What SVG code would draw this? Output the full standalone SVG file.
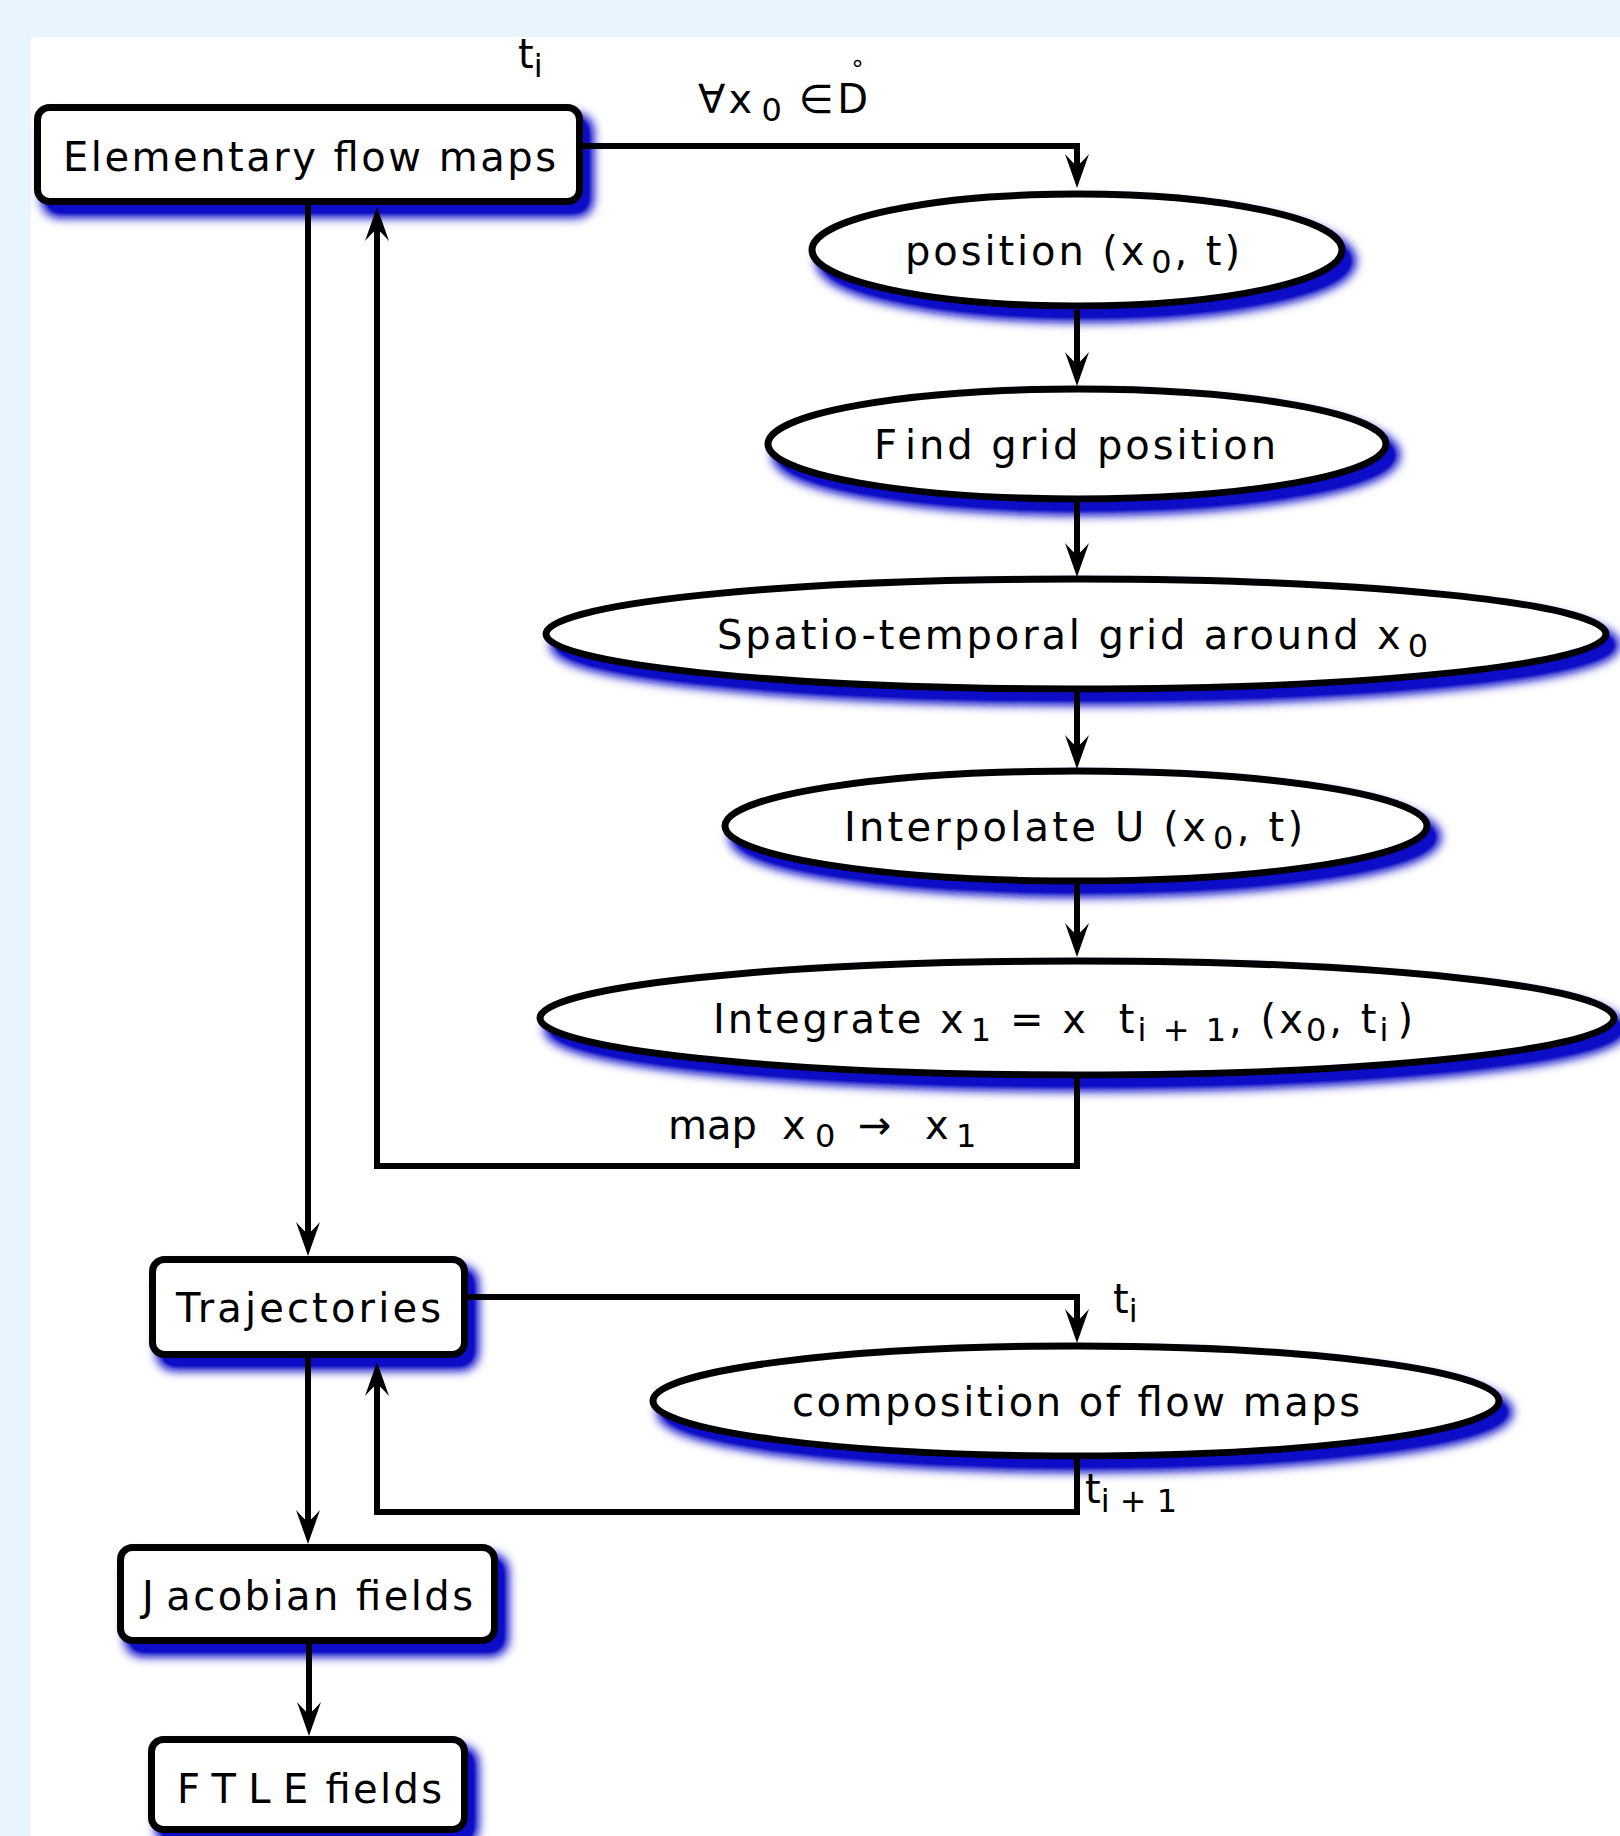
<svg xmlns="http://www.w3.org/2000/svg" width="1620" height="1836" viewBox="0 0 1620 1836">
<style>
.bg{fill:#e8f5fd}
.panel{fill:#ffffff}
.node{fill:#ffffff;stroke:#000;stroke-width:7}
.t{font-family:"DejaVu Sans","Liberation Sans",sans-serif;font-size:40px;fill:#000}
.sub{font-size:32px}
.conn{fill:none;stroke:#000;stroke-width:6;stroke-linejoin:miter}
</style>
<defs>
<filter id="sh" x="-10%" y="-20%" width="130%" height="180%">
<feOffset in="SourceAlpha" dx="9" dy="11" result="o"/>
<feGaussianBlur in="o" stdDeviation="6" result="b"/>
<feComponentTransfer in="b" result="b2"><feFuncA type="linear" slope="1.4"/></feComponentTransfer>
<feFlood flood-color="#0c0cc8"/>
<feComposite in2="b2" operator="in" result="s"/>
<feMerge><feMergeNode in="s"/><feMergeNode in="SourceGraphic"/></feMerge>
</filter>
<marker id="ah" markerUnits="userSpaceOnUse" markerWidth="40" markerHeight="30" viewBox="-30 -15 40 30" refX="0" refY="0" orient="auto">
<path d="M8,0 L-26,-12 Q-16,-3 -14,0 Q-16,3 -26,12 Z" fill="#000"/>
</marker>
</defs>
<rect class="bg" x="0" y="0" width="1620" height="1836"/>
<rect class="panel" x="31" y="37" width="1589" height="1799"/>

<g id="n-elementary">
<rect class="node" x="37.5" y="107.5" width="542" height="94" rx="12" filter="url(#sh)"/>
<text class="t" x="63" y="171" textLength="493">Elementary flow maps</text>
</g>

<g id="n-position">
<ellipse class="node" cx="1077" cy="250" rx="265" ry="56" filter="url(#sh)"/>
<text class="t" x="905" y="265" textLength="335">position (x<tspan class="sub" dx="4" dy="8">0</tspan><tspan dy="-8">, t)</tspan></text>
</g>

<g id="n-find">
<ellipse class="node" cx="1077" cy="444" rx="309" ry="55" filter="url(#sh)"/>
<text class="t" x="874" y="459" textLength="402">F<tspan dx="8">ind grid position</tspan></text>
</g>

<g id="n-spatio">
<ellipse class="node" cx="1076" cy="634" rx="530" ry="55" filter="url(#sh)"/>
<text class="t" x="717" y="649" textLength="711">Spatio-temporal grid around x<tspan class="sub" dx="4" dy="8">0</tspan></text>
</g>

<g id="n-interpolate">
<ellipse class="node" cx="1076" cy="826" rx="351" ry="55" filter="url(#sh)"/>
<text class="t" x="844" y="841" textLength="459">Interpolate U (x<tspan class="sub" dx="4" dy="8">0</tspan><tspan dy="-8">, t)</tspan></text>
</g>

<g id="n-integrate">
<ellipse class="node" cx="1077" cy="1018" rx="537" ry="57" filter="url(#sh)"/>
<text class="t" x="713" y="1033" textLength="700">Integrate x<tspan class="sub" dx="4" dy="8">1</tspan><tspan dy="-8"> = x</tspan><tspan dx="30">t</tspan><tspan class="sub" dy="8">i + 1</tspan><tspan dy="-8">, (x</tspan><tspan class="sub" dy="8">0</tspan><tspan dy="-8">, t</tspan><tspan class="sub" dy="8">i</tspan><tspan dx="6" dy="-8">)</tspan></text>
</g>

<g id="n-trajectories">
<rect class="node" x="152.5" y="1259.5" width="312" height="95" rx="12" filter="url(#sh)"/>
<text class="t" x="176" y="1322" textLength="265">Trajectories</text>
</g>

<g id="n-composition">
<ellipse class="node" cx="1076" cy="1401" rx="423" ry="55" filter="url(#sh)"/>
<text class="t" x="792" y="1416" textLength="568">composition of flow maps</text>
</g>

<g id="n-jacobian">
<rect class="node" x="120.5" y="1547.5" width="374" height="93" rx="12" filter="url(#sh)"/>
<text class="t" x="142" y="1610" textLength="331">J<tspan dx="10">acobian fields</tspan></text>
</g>

<g id="n-ftle">
<rect class="node" x="151.5" y="1739.5" width="313" height="90" rx="12" filter="url(#sh)"/>
<text class="t" x="177" y="1803" textLength="265">F<tspan dx="10">T</tspan><tspan dx="10">L</tspan><tspan dx="10">E</tspan> fields</text>
</g>

<g id="connectors">
<path class="conn" d="M583,146 H1077 V180" marker-end="url(#ah)"/>
<path class="conn" d="M1077,310 V378" marker-end="url(#ah)"/>
<path class="conn" d="M1077,501 V569" marker-end="url(#ah)"/>
<path class="conn" d="M1077,691 V761" marker-end="url(#ah)"/>
<path class="conn" d="M1077,884 V949" marker-end="url(#ah)"/>
<path class="conn" d="M1077,1078 V1166 H377 V215" marker-end="url(#ah)"/>
<path class="conn" d="M308,205 V1248" marker-end="url(#ah)"/>
<path class="conn" d="M468,1297 H1077 V1335" marker-end="url(#ah)"/>
<path class="conn" d="M1077,1459 V1512 H377 V1370" marker-end="url(#ah)"/>
<path class="conn" d="M308,1358 V1536" marker-end="url(#ah)"/>
<path class="conn" d="M309,1644 V1728" marker-end="url(#ah)"/>
</g>

<g id="labels">
<text class="t" x="518" y="68">t<tspan class="sub" dy="9">i</tspan></text>
<text class="t" x="698" y="113" textLength="170">∀x<tspan class="sub" dx="6" dy="8">0</tspan><tspan dx="14" dy="-8">∈D</tspan></text>
<text class="t" x="850" y="71" style="font-size:24px">∘</text>
<text class="t" x="668" y="1139">map<tspan x="782">x</tspan><tspan class="sub" x="815" dy="8">0</tspan><tspan x="858" dy="-8">→</tspan><tspan x="925">x</tspan><tspan class="sub" x="956" dy="8">1</tspan></text>
<text class="t" x="1113" y="1313">t<tspan class="sub" dy="9">i</tspan></text>
<text class="t" x="1085" y="1503">t<tspan class="sub" dy="9">i + 1</tspan></text>
</g>
</svg>
